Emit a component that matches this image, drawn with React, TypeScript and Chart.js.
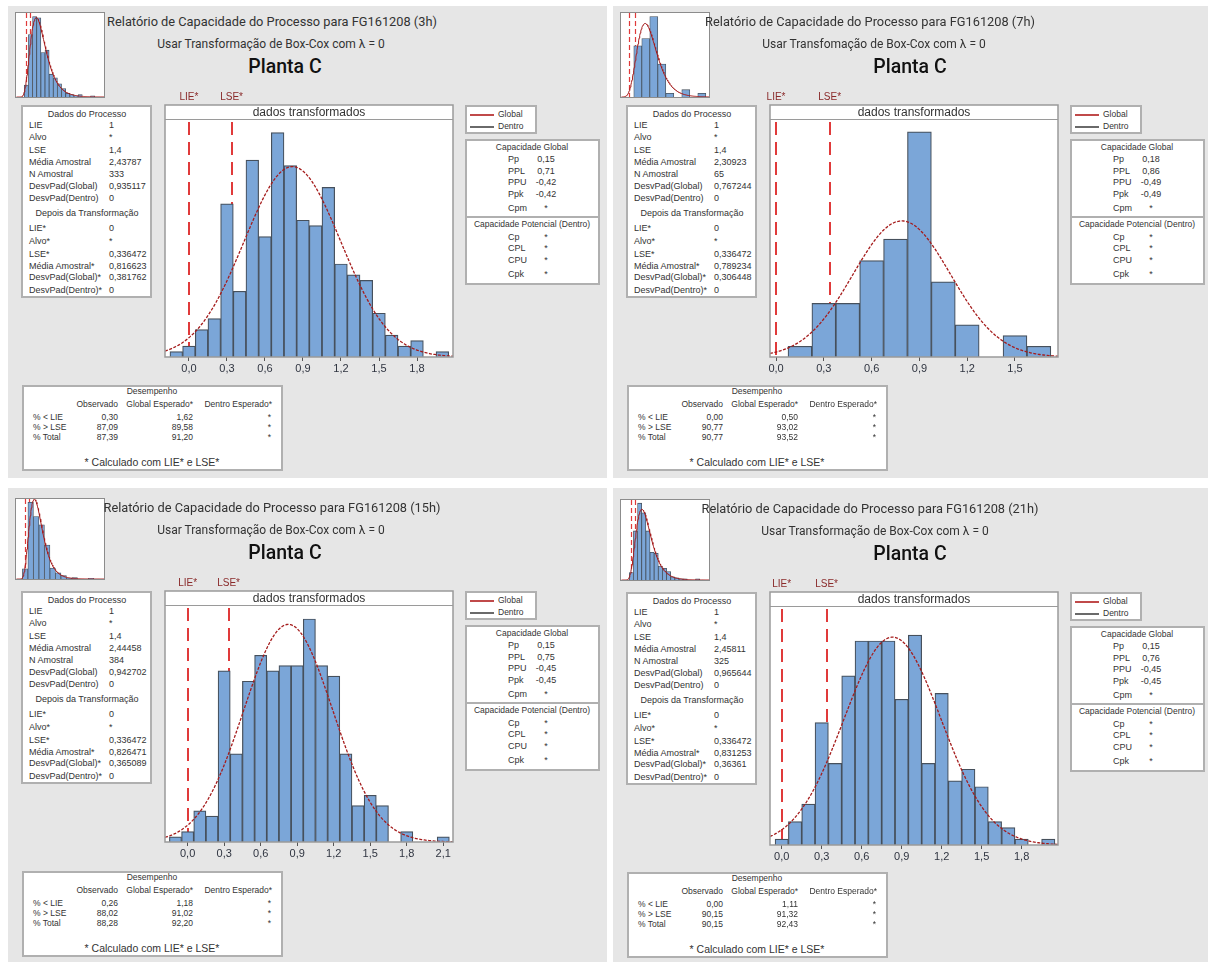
import React, { useEffect, useRef } from "react";
import { Chart, registerables } from "chart.js";

Chart.register(...registerables);

const SANS = "'Liberation Sans', Arial, sans-serif";
const TITLE_FONT = "Roboto, 'Liberation Sans', sans-serif";

// ---------------- shared specification values ----------------
const LIE = 1;
const LSE = 1.4;
const LIE_T = 0;
const LSE_T = 0.336472;
const HEADER_TEXT = "dados transformados";
const PLANTA = "Planta C";

const PROC_LABELS = ["LIE", "Alvo", "LSE", "Média Amostral", "N Amostral", "DesvPad(Global)", "DesvPad(Dentro)"];
const TRANS_LABELS = ["LIE*", "Alvo*", "LSE*", "Média Amostral*", "DesvPad(Global)*", "DesvPad(Dentro)*"];
const CAP_LABELS = ["Pp", "PPL", "PPU", "Ppk", "Cpm"];
const POT_LABELS = ["Cp", "CPL", "CPU", "Cpk"];
const POT_VALUES = ["*", "*", "*", "*"];
const PERF_ROWS = ["% < LIE", "% > LSE", "% Total"];
const PERF_HEADERS = ["Observado", "Global Esperado*", "Dentro Esperado*"];
const PERF_DENTRO = ["*", "*", "*"];

// ---------------- 3h ----------------
const TITLE_3H = "Relatório de Capacidade do Processo para FG161208 (3h)";
const SUB_3H = "Usar Transformação de Box-Cox com λ = 0";
const N_3H = 333;
const MEAN_T_3H = 0.816623;
const SD_T_3H = 0.381762;
const BINS_3H = [-0.1, 0.0, 0.1, 0.2, 0.3, 0.4, 0.5, 0.6, 0.7, 0.8, 0.9, 1.0, 1.1, 1.2, 1.3, 1.4, 1.5, 1.6, 1.7, 1.8, 1.9, 2.0];
const COUNTS_3H = [1, 2, 5, 7, 28, 12, 36, 22, 41, 35, 25, 24, 31, 17, 15, 14, 8, 4, 2, 3, 0, 1];
const TICKS_3H = [0, 0.3, 0.6, 0.9, 1.2, 1.5, 1.8];
const THUMB_BINS_3H = [1.0, 1.4, 1.8, 2.2, 2.6, 3.0, 3.4, 3.8, 4.2, 4.6, 5.0, 5.4, 5.8, 6.2, 6.6, 7.0, 7.4];
const THUMB_COUNTS_3H = [10, 52, 67, 66, 37, 39, 19, 16, 11, 7, 3, 2, 1, 2, 0, 0, 1];
const PROC_3H = ["1", "*", "1,4", "2,43787", "333", "0,935117", "0"];
const TRANS_3H = ["0", "*", "0,336472", "0,816623", "0,381762", "0"];
const CAP_3H = ["0,15", "0,71", "-0,42", "-0,42", "*"];
const PERF_OBS_3H = ["0,30", "87,09", "87,39"];
const PERF_GLOB_3H = ["1,62", "89,58", "91,20"];

// ---------------- 7h ----------------
const TITLE_7H = "Relatório de Capacidade do Processo para FG161208 (7h)";
const SUB_7H = "Usar Transfomação de Box-Cox com λ = 0";
const N_7H = 65;
const MEAN_T_7H = 0.789234;
const SD_T_7H = 0.306448;
const BINS_7H = [0.15, 0.3, 0.45, 0.6, 0.75, 0.9, 1.05, 1.2, 1.35, 1.5, 1.65];
const COUNTS_7H = [1, 5, 5, 9, 11, 21, 7, 3, 0, 2, 1];
const TICKS_7H = [0, 0.3, 0.6, 0.9, 1.2, 1.5];
const THUMB_BINS_7H = [1.55, 2.05, 2.55, 3.05, 3.55, 4.05, 4.55, 5.05, 5.55];
const THUMB_COUNTS_7H = [14, 16, 22, 9, 1, 0, 2, 0, 1];
const PROC_7H = ["1", "*", "1,4", "2,30923", "65", "0,767244", "0"];
const TRANS_7H = ["0", "*", "0,336472", "0,789234", "0,306448", "0"];
const CAP_7H = ["0,18", "0,86", "-0,49", "-0,49", "*"];
const PERF_OBS_7H = ["0,00", "90,77", "90,77"];
const PERF_GLOB_7H = ["0,50", "93,02", "93,52"];

// ---------------- 15h ----------------
const TITLE_15H = "Relatório de Capacidade do Processo para FG161208 (15h)";
const SUB_15H = "Usar Transformação de Box-Cox com λ = 0";
const N_15H = 384;
const MEAN_T_15H = 0.826471;
const SD_T_15H = 0.365089;
const BINS_15H = [-0.1, 0.0, 0.1, 0.2, 0.3, 0.4, 0.5, 0.6, 0.7, 0.8, 0.9, 1.0, 1.1, 1.2, 1.3, 1.4, 1.5, 1.6, 1.7, 1.8, 1.9, 2.0, 2.1];
const COUNTS_15H = [1, 2, 6, 5, 33, 17, 31, 36, 33, 34, 34, 43, 34, 32, 17, 7, 9, 7, 0, 2, 0, 0, 1];
const TICKS_15H = [0, 0.3, 0.6, 0.9, 1.2, 1.5, 1.8, 2.1];
const THUMB_BINS_15H = [1.0, 1.6, 2.2, 2.8, 3.4, 4.0, 4.6, 5.2, 5.8, 6.4, 7.0, 7.6, 8.2];
const THUMB_COUNTS_15H = [15, 113, 92, 80, 50, 16, 9, 5, 1, 2, 0, 0, 1];
const PROC_15H = ["1", "*", "1,4", "2,44458", "384", "0,942702", "0"];
const TRANS_15H = ["0", "*", "0,336472", "0,826471", "0,365089", "0"];
const CAP_15H = ["0,15", "0,75", "-0,45", "-0,45", "*"];
const PERF_OBS_15H = ["0,26", "88,02", "88,28"];
const PERF_GLOB_15H = ["1,18", "91,02", "92,20"];

// ---------------- 21h ----------------
const TITLE_21H = "Relatório de Capacidade do Processo para FG161208 (21h)";
const SUB_21H = "Usar Transformação de Box-Cox com λ = 0";
const N_21H = 325;
const MEAN_T_21H = 0.831253;
const SD_T_21H = 0.36361;
const BINS_21H = [0.0, 0.1, 0.2, 0.3, 0.4, 0.5, 0.6, 0.7, 0.8, 0.9, 1.0, 1.1, 1.2, 1.3, 1.4, 1.5, 1.6, 1.7, 1.8, 1.9, 2.0];
const COUNTS_21H = [1, 4, 7, 21, 14, 29, 35, 35, 35, 25, 36, 14, 26, 11, 13, 10, 4, 3, 1, 0, 1];
const TICKS_21H = [0, 0.3, 0.6, 0.9, 1.2, 1.5, 1.8];
const THUMB_BINS_21H = [1.0, 1.4, 1.8, 2.2, 2.6, 3.0, 3.4, 3.8, 4.2, 4.6, 5.0, 5.4, 5.8, 6.2, 6.6, 7.0, 7.4];
const THUMB_COUNTS_21H = [7, 46, 72, 63, 46, 26, 25, 13, 11, 8, 3, 2, 1, 1, 0, 0, 1];
const PROC_21H = ["1", "*", "1,4", "2,45811", "325", "0,965644", "0"];
const TRANS_21H = ["0", "*", "0,336472", "0,831253", "0,36361", "0"];
const CAP_21H = ["0,15", "0,76", "-0,45", "-0,45", "*"];
const PERF_OBS_21H = ["0,00", "90,15", "90,15"];
const PERF_GLOB_21H = ["1,11", "91,32", "92,43"];

// ---------------- styles ----------------
const BAR_FILL = "#7ba6d8";
const BAR_EDGE = "#46505c";
const CURVE = "#a51c1c";
const SPEC = "#e03a3a";
const SPEC_LABEL = "#8a2a2a";
const FRAME = "#9a9a9a";
const PANEL_BG = "#e6e6e6";
const TXT = "#333";

const HEADER_H = 14;
const TOP_SPACE = 18;
const PAD_X = 16;
const AXIS_H = 22;

const fmt1 = (v: number) => v.toFixed(1).replace(".", ",");

type HistProps = {
  fx: number; fy: number; fw: number; fh: number;
  bins: number[]; counts: number[]; binW: number;
  mean: number; sd: number; n: number;
  xMin: number; xMax: number; yMax: number; ticks: number[];
};

function Histogram(p: HistProps) {
  const ref = useRef<HTMLCanvasElement | null>(null);
  const cw = p.fw + 2 * PAD_X;
  const ch = TOP_SPACE + p.fh + AXIS_H;
  useEffect(() => {
    const el = ref.current;
    if (!el) return;
    const bars = p.bins.map((b, i) => ({ x: b, y: p.counts[i] })).filter((d) => d.y > 0);
    const curve: { x: number; y: number }[] = [];
    const steps = 220;
    for (let i = 0; i <= steps; i++) {
      const x = p.xMin + ((p.xMax - p.xMin) * i) / steps;
      const z = (x - p.mean) / p.sd;
      curve.push({ x, y: (p.n * p.binW * Math.exp(-0.5 * z * z)) / (p.sd * Math.sqrt(2 * Math.PI)) });
    }
    const deco = {
      id: "deco",
      beforeDraw(c: any) {
        const { ctx, chartArea: a } = c;
        ctx.save();
        ctx.fillStyle = "#fff";
        ctx.fillRect(a.left, TOP_SPACE, a.right - a.left, a.bottom - TOP_SPACE);
        ctx.restore();
      },
      beforeDatasetsDraw(c: any) {
        const { ctx, chartArea: a, scales } = c;
        ctx.save();
        ctx.strokeStyle = SPEC;
        ctx.lineWidth = 2;
        ctx.setLineDash([13, 7]);
        [LIE_T, LSE_T].forEach((v) => {
          const px = Math.round(scales.x.getPixelForValue(v));
          ctx.beginPath();
          ctx.moveTo(px, a.top + 3);
          ctx.lineTo(px, a.bottom);
          ctx.stroke();
        });
        ctx.restore();
      },
      afterDraw(c: any) {
        const { ctx, chartArea: a, scales } = c;
        ctx.save();
        ctx.fillStyle = "#fff";
        ctx.fillRect(a.left, TOP_SPACE, a.right - a.left, HEADER_H);
        ctx.strokeStyle = FRAME;
        ctx.lineWidth = 1;
        ctx.beginPath();
        ctx.moveTo(a.left, a.top + 0.5);
        ctx.lineTo(a.right, a.top + 0.5);
        ctx.stroke();
        ctx.lineWidth = 1.5;
        ctx.strokeRect(a.left, TOP_SPACE, a.right - a.left, a.bottom - TOP_SPACE);
        ctx.fillStyle = TXT;
        ctx.font = `12px ${SANS}`;
        ctx.textAlign = "center";
        ctx.textBaseline = "middle";
        ctx.fillText(HEADER_TEXT, (a.left + a.right) / 2, TOP_SPACE + HEADER_H / 2 + 0.5);
        ctx.fillStyle = SPEC_LABEL;
        ctx.font = `10px ${SANS}`;
        ctx.fillText("LIE*", scales.x.getPixelForValue(LIE_T), TOP_SPACE - 8);
        ctx.fillText("LSE*", scales.x.getPixelForValue(LSE_T), TOP_SPACE - 8);
        ctx.restore();
      },
    };
    const chart = new Chart(el, {
      type: "bar",
      data: {
        datasets: [
          {
            type: "line",
            data: curve,
            borderColor: CURVE,
            borderWidth: 1.3,
            borderDash: [3, 1.5],
            pointRadius: 0,
            tension: 0,
            order: 0,
          } as any,
          {
            type: "bar",
            data: bars,
            backgroundColor: BAR_FILL,
            borderColor: BAR_EDGE,
            borderWidth: 1.2,
            barPercentage: 1,
            categoryPercentage: 1,
            order: 1,
          } as any,
        ],
      },
      options: {
        responsive: false,
        animation: false,
        devicePixelRatio: 1,
        layout: { padding: { left: PAD_X, right: PAD_X, top: TOP_SPACE + HEADER_H, bottom: 0 } },
        scales: {
          x: {
            type: "linear",
            min: p.xMin,
            max: p.xMax,
            offset: false,
            grid: { display: true, drawOnChartArea: false, drawTicks: true, tickLength: 4, color: "#555", offset: false },
            border: { display: false },
            ticks: {
              autoSkip: false,
              maxRotation: 0,
              padding: 1,
              color: "#2f3440",
              font: { size: 11, family: SANS },
              callback: (v: any) => fmt1(Number(v)),
            },
            afterBuildTicks: (s: any) => {
              s.ticks = p.ticks.map((v) => ({ value: v }));
            },
            afterFit: (s: any) => {
              s.height = AXIS_H;
            },
          },
          y: { display: false, min: 0, max: p.yMax },
        },
        plugins: { legend: { display: false }, tooltip: { enabled: false } },
      } as any,
      plugins: [deco],
    });
    return () => chart.destroy();
  }, []);
  return (
    <canvas
      ref={ref}
      width={cw}
      height={ch}
      style={{ position: "absolute", left: p.fx - PAD_X, top: p.fy - TOP_SPACE, width: cw, height: ch }}
    />
  );
}

type ThumbProps = {
  x: number; y: number; w: number; h: number;
  bins: number[]; counts: number[]; binW: number;
  mu: number; sigma: number; n: number;
  xMin: number; xMax: number; yMax: number;
};

function Thumb(p: ThumbProps) {
  const ref = useRef<HTMLCanvasElement | null>(null);
  useEffect(() => {
    const el = ref.current;
    if (!el) return;
    const bars = p.bins.map((b, i) => ({ x: b, y: p.counts[i] })).filter((d) => d.y > 0);
    const curve: { x: number; y: number }[] = [];
    const steps = 160;
    for (let i = 1; i <= steps; i++) {
      const x = p.xMin + ((p.xMax - p.xMin) * i) / steps;
      if (x <= 0) continue;
      const z = (Math.log(x) - p.mu) / p.sigma;
      curve.push({ x, y: (p.n * p.binW * Math.exp(-0.5 * z * z)) / (x * p.sigma * Math.sqrt(2 * Math.PI)) });
    }
    const deco = {
      id: "thumbdeco",
      beforeDraw(c: any) {
        const { ctx } = c;
        ctx.save();
        ctx.fillStyle = "#fff";
        ctx.fillRect(0, 0, p.w, p.h);
        ctx.restore();
      },
      beforeDatasetsDraw(c: any) {
        const { ctx, chartArea: a, scales } = c;
        ctx.save();
        ctx.strokeStyle = SPEC;
        ctx.lineWidth = 1.2;
        ctx.setLineDash([5, 3]);
        [LIE, LSE].forEach((v) => {
          const px = Math.round(scales.x.getPixelForValue(v)) + 0.5;
          ctx.beginPath();
          ctx.moveTo(px, a.top);
          ctx.lineTo(px, a.bottom);
          ctx.stroke();
        });
        ctx.restore();
      },
      afterDraw(c: any) {
        const { ctx } = c;
        ctx.save();
        ctx.strokeStyle = "#8c8c8c";
        ctx.lineWidth = 1;
        ctx.strokeRect(0.5, 0.5, p.w - 1, p.h - 1);
        ctx.restore();
      },
    };
    const chart = new Chart(el, {
      type: "bar",
      data: {
        datasets: [
          { type: "line", data: curve, borderColor: CURVE, borderWidth: 1, pointRadius: 0, order: 0 } as any,
          {
            type: "bar",
            data: bars,
            backgroundColor: BAR_FILL,
            borderColor: BAR_EDGE,
            borderWidth: 0.8,
            barPercentage: 1,
            categoryPercentage: 1,
            order: 1,
          } as any,
        ],
      },
      options: {
        responsive: false,
        animation: false,
        devicePixelRatio: 1,
        layout: { padding: 1 },
        scales: {
          x: { type: "linear", display: false, min: p.xMin, max: p.xMax, offset: false },
          y: { display: false, min: 0, max: p.yMax },
        },
        plugins: { legend: { display: false }, tooltip: { enabled: false } },
      } as any,
      plugins: [deco],
    });
    return () => chart.destroy();
  }, []);
  return (
    <canvas
      ref={ref}
      width={p.w}
      height={p.h}
      style={{ position: "absolute", left: p.x, top: p.y, width: p.w, height: p.h }}
    />
  );
}

type TxtProps = {
  x: number; y: number; children: React.ReactNode;
  align?: "left" | "center" | "right"; size?: number; weight?: number;
  color?: string; family?: string;
};

function Txt({ x, y, children, align = "left", size = 9, weight = 400, color = TXT, family = SANS }: TxtProps) {
  const tx = align === "center" ? "-50%" : align === "right" ? "-100%" : "0";
  return (
    <div
      style={{
        position: "absolute",
        left: x,
        top: y,
        transform: `translate(${tx}, -50%)`,
        fontFamily: family,
        fontSize: size,
        fontWeight: weight,
        color,
        lineHeight: 1,
        whiteSpace: "nowrap",
      }}
    >
      {children}
    </div>
  );
}

function Box({ x, y, w, h }: { x: number; y: number; w: number; h: number }) {
  return (
    <div
      style={{
        position: "absolute",
        left: x,
        top: y,
        width: w,
        height: h,
        background: "#fff",
        border: "2px solid #b0b0b0",
        boxSizing: "border-box",
      }}
    />
  );
}

type PanelCfg = {
  dx: number; dy: number; bg: number[];
  titleCx: number; subCx: number; plantaCx: number;
  title: string; sub: string;
  thumbH: number;
  thumb: { bins: number[]; counts: number[]; binW: number; xMin: number; xMax: number; yMax: number };
  hist: { fh: number; bins: number[]; counts: number[]; binW: number; xMin: number; xMax: number; yMax: number; ticks: number[] };
  n: number; mean: number; sd: number;
  proc: string[]; trans: string[]; cap: string[];
  obs: string[]; glob: string[];
};

const PROC_Y = [20, 32, 45, 57, 69, 81, 93];
const TRANS_Y = [123, 136, 149, 161, 172, 185];
const CAP_Y = [20, 32, 43, 55, 69];
const POT_Y = [98, 109, 121, 135];
const PERF_Y = [32, 42, 52];
const TS = 9; // small table font size

function Panel({ c }: { c: PanelCfg }) {
  const X = (v: number) => v + c.dx;
  const Y = (v: number) => v + c.dy;
  return (
    <>
      <div style={{ position: "absolute", left: c.bg[0], top: c.bg[1], width: c.bg[2], height: c.bg[3], background: PANEL_BG }} />
      <Thumb
        x={X(15)} y={Y(12)} w={90} h={c.thumbH}
        bins={c.thumb.bins} counts={c.thumb.counts} binW={c.thumb.binW}
        mu={c.mean} sigma={c.sd} n={c.n}
        xMin={c.thumb.xMin} xMax={c.thumb.xMax} yMax={c.thumb.yMax}
      />
      <Txt x={c.titleCx} y={Y(22)} align="center" size={12.8} family={TITLE_FONT}>{c.title}</Txt>
      <Txt x={c.subCx} y={Y(44)} align="center" size={12} family={TITLE_FONT}>{c.sub}</Txt>
      <Txt x={c.plantaCx} y={Y(67)} align="center" size={19.5} weight={500} color="#111" family={TITLE_FONT}>{PLANTA}</Txt>

      {/* Dados do processo */}
      <Box x={X(21)} y={Y(105)} w={131} h={193} />
      <Txt x={X(87)} y={Y(105 + 9)} align="center" size={TS}>Dados do Processo</Txt>
      {PROC_LABELS.map((l, i) => (
        <React.Fragment key={"p" + i}>
          <Txt x={X(29)} y={Y(105 + PROC_Y[i])} size={TS}>{l}</Txt>
          <Txt x={X(109)} y={Y(105 + PROC_Y[i])} size={TS}>{c.proc[i]}</Txt>
        </React.Fragment>
      ))}
      <Txt x={X(87)} y={Y(105 + 108)} align="center" size={TS}>Depois da Transformação</Txt>
      {TRANS_LABELS.map((l, i) => (
        <React.Fragment key={"t" + i}>
          <Txt x={X(29)} y={Y(105 + TRANS_Y[i])} size={TS}>{l}</Txt>
          <Txt x={X(109)} y={Y(105 + TRANS_Y[i])} size={TS}>{c.trans[i]}</Txt>
        </React.Fragment>
      ))}

      {/* Histogram */}
      <Histogram
        fx={X(165)} fy={Y(105)} fw={288} fh={c.hist.fh}
        bins={c.hist.bins} counts={c.hist.counts} binW={c.hist.binW}
        mean={c.mean} sd={c.sd} n={c.n}
        xMin={c.hist.xMin} xMax={c.hist.xMax} yMax={c.hist.yMax} ticks={c.hist.ticks}
      />

      {/* Legend */}
      <Box x={X(465)} y={Y(105)} w={72} h={29} />
      <div style={{ position: "absolute", left: X(470), top: Y(114), width: 24, height: 1.5, background: "#c04a4a" }} />
      <Txt x={X(498)} y={Y(114)} size={8.5}>Global</Txt>
      <div style={{ position: "absolute", left: X(470), top: Y(126), width: 24, height: 1.5, background: "#6a6a6a" }} />
      <Txt x={X(498)} y={Y(126)} size={8.5}>Dentro</Txt>

      {/* Capability */}
      <Box x={X(465)} y={Y(139)} w={135} h={146} />
      <Txt x={X(532)} y={Y(139 + 8)} align="center" size={8.5}>Capacidade Global</Txt>
      {CAP_LABELS.map((l, i) => (
        <React.Fragment key={"c" + i}>
          <Txt x={X(508)} y={Y(139 + CAP_Y[i])} size={TS}>{l}</Txt>
          <Txt x={X(546)} y={Y(139 + CAP_Y[i])} align="center" size={TS}>{c.cap[i]}</Txt>
        </React.Fragment>
      ))}
      <div style={{ position: "absolute", left: X(467), top: Y(139 + 77), width: 131, height: 1.5, background: "#b0b0b0" }} />
      <Txt x={X(532)} y={Y(139 + 85)} align="center" size={8.5}>Capacidade Potencial (Dentro)</Txt>
      {POT_LABELS.map((l, i) => (
        <React.Fragment key={"d" + i}>
          <Txt x={X(508)} y={Y(139 + POT_Y[i])} size={TS}>{l}</Txt>
          <Txt x={X(546)} y={Y(139 + POT_Y[i])} align="center" size={TS}>{POT_VALUES[i]}</Txt>
        </React.Fragment>
      ))}

      {/* Performance */}
      <Box x={X(22)} y={Y(385)} w={261} h={86} />
      <Txt x={X(152)} y={Y(385 + 6)} align="center" size={8.5}>Desempenho</Txt>
      <Txt x={X(118)} y={Y(385 + 19)} align="right" size={8.5}>{PERF_HEADERS[0]}</Txt>
      <Txt x={X(193)} y={Y(385 + 19)} align="right" size={8.5}>{PERF_HEADERS[1]}</Txt>
      <Txt x={X(272)} y={Y(385 + 19)} align="right" size={8.5}>{PERF_HEADERS[2]}</Txt>
      {PERF_ROWS.map((l, i) => (
        <React.Fragment key={"f" + i}>
          <Txt x={X(33)} y={Y(385 + PERF_Y[i])} size={8.5}>{l}</Txt>
          <Txt x={X(118)} y={Y(385 + PERF_Y[i])} align="right" size={8.5}>{c.obs[i]}</Txt>
          <Txt x={X(193)} y={Y(385 + PERF_Y[i])} align="right" size={8.5}>{c.glob[i]}</Txt>
          <Txt x={X(271)} y={Y(385 + PERF_Y[i])} align="right" size={8.5}>{PERF_DENTRO[i]}</Txt>
        </React.Fragment>
      ))}
      <Txt x={X(152)} y={Y(385 + 77)} align="center" size={10.5}>* Calculado com LIE* e LSE*</Txt>
    </>
  );
}

const PANELS: PanelCfg[] = [
  {
    dx: 0, dy: 0, bg: [8, 6, 599, 472],
    titleCx: 272, subCx: 271, plantaCx: 285,
    title: TITLE_3H, sub: SUB_3H, thumbH: 86,
    thumb: { bins: THUMB_BINS_3H, counts: THUMB_COUNTS_3H, binW: 0.4, xMin: 0, xMax: 8.5, yMax: 70 },
    hist: { fh: 252, bins: BINS_3H, counts: COUNTS_3H, binW: 0.1, xMin: -0.189, xMax: 2.084, yMax: 43.5, ticks: TICKS_3H },
    n: N_3H, mean: MEAN_T_3H, sd: SD_T_3H,
    proc: PROC_3H, trans: TRANS_3H, cap: CAP_3H, obs: PERF_OBS_3H, glob: PERF_GLOB_3H,
  },
  {
    dx: 605, dy: 0, bg: [613, 6, 595, 472],
    titleCx: 870, subCx: 874, plantaCx: 910,
    title: TITLE_7H, sub: SUB_7H, thumbH: 86,
    thumb: { bins: THUMB_BINS_7H, counts: THUMB_COUNTS_7H, binW: 0.5, xMin: 0.5, xMax: 6.0, yMax: 23 },
    hist: { fh: 252, bins: BINS_7H, counts: COUNTS_7H, binW: 0.15, xMin: -0.038, xMax: 1.77, yMax: 22.2, ticks: TICKS_7H },
    n: N_7H, mean: MEAN_T_7H, sd: SD_T_7H,
    proc: PROC_7H, trans: TRANS_7H, cap: CAP_7H, obs: PERF_OBS_7H, glob: PERF_GLOB_7H,
  },
  {
    dx: 0, dy: 486, bg: [8, 488, 599, 474],
    titleCx: 272, subCx: 271, plantaCx: 285,
    title: TITLE_15H, sub: SUB_15H, thumbH: 82,
    thumb: { bins: THUMB_BINS_15H, counts: THUMB_COUNTS_15H, binW: 0.6, xMin: 0, xMax: 9.6, yMax: 118 },
    hist: { fh: 251, bins: BINS_15H, counts: COUNTS_15H, binW: 0.1, xMin: -0.186, xMax: 2.18, yMax: 45.7, ticks: TICKS_15H },
    n: N_15H, mean: MEAN_T_15H, sd: SD_T_15H,
    proc: PROC_15H, trans: TRANS_15H, cap: CAP_15H, obs: PERF_OBS_15H, glob: PERF_GLOB_15H,
  },
  {
    dx: 605, dy: 487, bg: [613, 488, 595, 474],
    titleCx: 870, subCx: 875, plantaCx: 910,
    title: TITLE_21H, sub: SUB_21H, thumbH: 82,
    thumb: { bins: THUMB_BINS_21H, counts: THUMB_COUNTS_21H, binW: 0.4, xMin: 0, xMax: 8.5, yMax: 75 },
    hist: { fh: 253, bins: BINS_21H, counts: COUNTS_21H, binW: 0.1, xMin: -0.088, xMax: 2.073, yMax: 41, ticks: TICKS_21H },
    n: N_21H, mean: MEAN_T_21H, sd: SD_T_21H,
    proc: PROC_21H, trans: TRANS_21H, cap: CAP_21H, obs: PERF_OBS_21H, glob: PERF_GLOB_21H,
  },
];

export default function App() {
  return (
    <div style={{ position: "absolute", left: 0, top: 0, width: 1210, height: 967, background: "#fff", overflow: "hidden" }}>
      {PANELS.map((c, i) => (
        <Panel key={i} c={c} />
      ))}
    </div>
  );
}
